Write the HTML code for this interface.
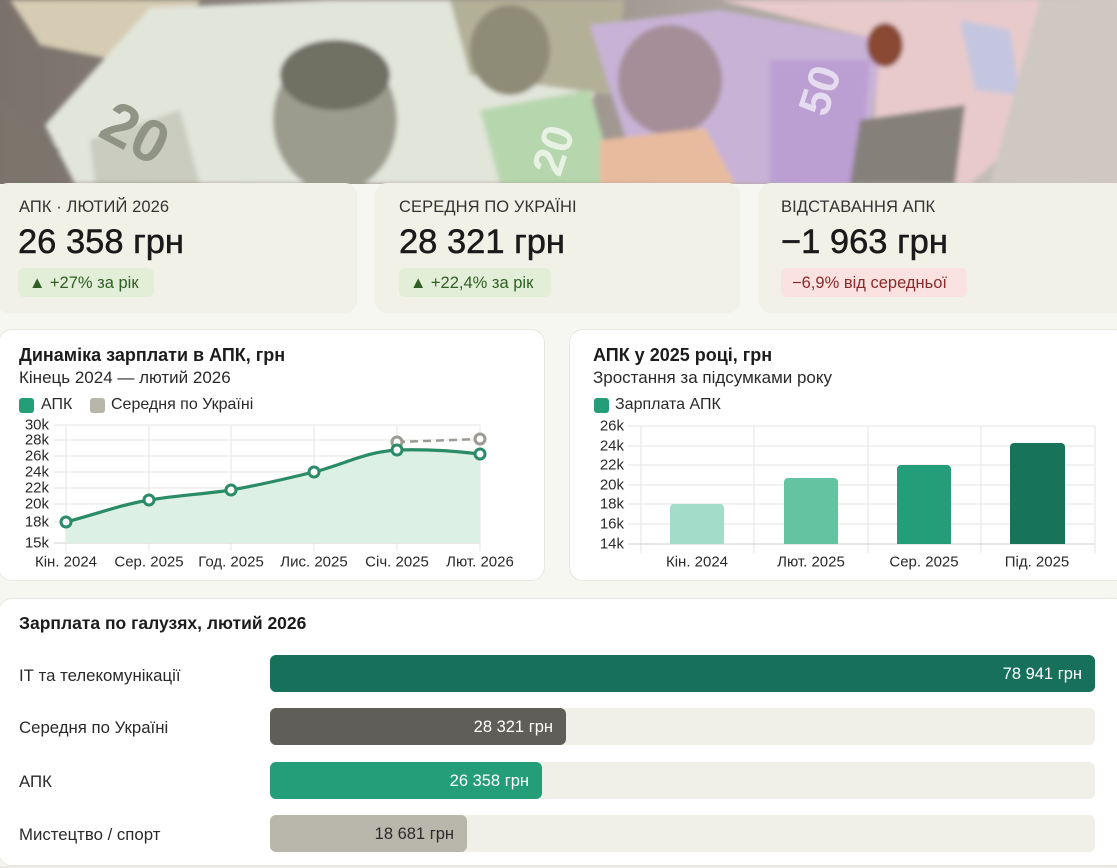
<!DOCTYPE html>
<html lang="uk">
<head>
<meta charset="utf-8">
<style>
  html,body{margin:0;padding:0;}
  body{width:1117px;height:868px;overflow:hidden;background:#f7f7f2;position:relative;
       font-family:"Liberation Sans","DejaVu Sans",sans-serif;color:#1c1c1c;}
  .abs{position:absolute;}
  .kpi{position:absolute;top:183px;height:130px;background:#f2f1e7;border-radius:12px;}
  .klabel{position:absolute;top:198px;font-size:16.5px;color:#333;white-space:nowrap;letter-spacing:0.1px;}
  .kval{position:absolute;top:223px;font-size:34.5px;color:#1a1a1a;white-space:nowrap;-webkit-text-stroke:0.5px #1a1a1a;}
  .badge{position:absolute;top:268px;height:29px;line-height:30px;border-radius:6px;font-size:16.5px;white-space:nowrap;padding:0 11px;box-sizing:border-box;}
  .card{position:absolute;background:#fff;border:1px solid #e8e7e1;border-radius:14px;box-sizing:border-box;}
  .ctitle{position:absolute;font-size:18px;font-weight:bold;white-space:nowrap;color:#1c1c1c;}
  .csub{position:absolute;font-size:17px;white-space:nowrap;color:#2a2a2a;}
  .leg{position:absolute;font-size:16px;white-space:nowrap;color:#2a2a2a;}
  .sq{position:absolute;width:15px;height:15px;border-radius:3px;}
  .rlabel{position:absolute;left:19px;font-size:16.8px;color:#2a2a2a;white-space:nowrap;}
  .track{position:absolute;left:270px;width:825px;height:37px;background:#f1f0e8;border-radius:6px;}
  .bar{position:absolute;left:270px;height:37px;border-radius:6px;box-sizing:border-box;text-align:right;padding-right:13px;line-height:38px;font-size:16.5px;color:#fff;white-space:nowrap;}
</style>
</head>
<body>

<!-- Photo header approximation -->
<svg class="abs" style="left:0;top:0" width="1117" height="184" viewBox="0 0 1117 184">
  <defs>
    <linearGradient id="wood" x1="0" x2="1" y1="0" y2="0">
      <stop offset="0" stop-color="#7a726a"/>
      <stop offset="0.5" stop-color="#9c948c"/>
      <stop offset="1" stop-color="#cfc9c2"/>
    </linearGradient>
    <filter id="bl" x="-5%" y="-5%" width="110%" height="110%"><feGaussianBlur stdDeviation="2.5"/></filter>
  </defs>
  <rect width="1117" height="184" fill="url(#wood)"/>
  <g filter="url(#bl)">
    <polygon points="10,0 200,0 165,70 40,45" fill="#d6ccb4"/>
    <polygon points="150,8 330,0 470,0 600,80 560,184 75,184 45,125" fill="#e2e5da"/>
    <polygon points="90,140 180,110 200,184 95,184" fill="#c9ccbe"/>
    <ellipse cx="335" cy="120" rx="62" ry="72" fill="#9c9c8e"/>
    <ellipse cx="335" cy="75" rx="55" ry="35" fill="#6f6f64"/>
    <polygon points="450,0 625,0 610,95 470,75" fill="#b3b098"/>
    <ellipse cx="510" cy="50" rx="40" ry="45" fill="#8e8b77"/>
    <polygon points="590,25 720,10 885,40 860,184 640,184" fill="#c8b2d6"/>
    <ellipse cx="670" cy="80" rx="52" ry="55" fill="#a68e98"/>
    <polygon points="770,60 870,60 860,184 770,184" fill="#bb9fd3"/>
    <polygon points="480,110 590,90 615,184 500,184" fill="#b6d7ae"/>
    <polygon points="600,140 705,128 735,184 600,184" fill="#e8bb9e"/>
    <polygon points="720,0 1095,0 1085,80 970,184 870,184 880,40" fill="#e8cacb"/>
    <polygon points="960,20 1010,30 1020,95 975,90" fill="#c4c6df"/>
    <polygon points="860,120 965,105 955,184 850,184" fill="#85817a"/>
    <ellipse cx="885" cy="45" rx="18" ry="22" fill="#8a4a30"/>
    <polygon points="1040,0 1117,0 1117,184 990,184" fill="#cec8c1"/>
    <polygon points="0,100 60,150 40,184 0,184" fill="#7c746c"/>
  </g>
  <text x="105" y="150" font-size="60" font-weight="bold" fill="#8f9484" transform="rotate(28 130 125)" font-family="Liberation Sans, sans-serif">20</text>
  <text x="525" y="160" font-size="44" font-weight="bold" fill="#e8f2e4" transform="rotate(-72 555 145)" font-family="Liberation Sans, sans-serif">20</text>
  <text x="795" y="105" font-size="44" font-weight="bold" fill="#e6dcef" transform="rotate(-72 820 90)" font-family="Liberation Sans, sans-serif">50</text>
</svg>

<!-- KPI cards -->
<div class="kpi" style="left:-4px;width:361px;"></div>
<div class="kpi" style="left:375px;width:365px;"></div>
<div class="kpi" style="left:759px;width:370px;"></div>

<div class="klabel" style="left:19px;">АПК · ЛЮТИЙ 2026</div>
<div class="kval" style="left:18px;">26 358 грн</div>
<div class="badge" style="left:18px;width:136px;background:#e2eed8;color:#2f5f22;">▲ +27% за рік</div>

<div class="klabel" style="left:399px;">СЕРЕДНЯ ПО УКРАЇНІ</div>
<div class="kval" style="left:399px;">28 321 грн</div>
<div class="badge" style="left:399px;width:152px;background:#e2eed8;color:#2f5f22;">▲ +22,4% за рік</div>

<div class="klabel" style="left:781px;">ВІДСТАВАННЯ АПК</div>
<div class="kval" style="left:781px;">−1 963 грн</div>
<div class="badge" style="left:781px;width:186px;background:#f9e2df;color:#8a2a2a;">−6,9% від середньої</div>

<!-- Chart cards -->
<div class="card" style="left:-2px;top:329px;width:547px;height:252px;"></div>
<div class="card" style="left:569px;top:329px;width:560px;height:252px;"></div>

<div class="ctitle" style="left:19px;top:345px;">Динаміка зарплати в АПК, грн</div>
<div class="csub" style="left:19px;top:368px;">Кінець 2024 — лютий 2026</div>
<div class="sq" style="left:19px;top:398px;background:#249e78;"></div>
<div class="leg" style="left:41px;top:396px;">АПК</div>
<div class="sq" style="left:90px;top:398px;background:#b9b5ab;"></div>
<div class="leg" style="left:111px;top:396px;">Середня по Україні</div>

<div class="ctitle" style="left:593px;top:345px;">АПК у 2025 році, грн</div>
<div class="csub" style="left:593px;top:368px;">Зростання за підсумками року</div>
<div class="sq" style="left:594px;top:398px;background:#249e78;"></div>
<div class="leg" style="left:615px;top:396px;">Зарплата АПК</div>

<svg class="abs" style="left:0;top:0" width="1117" height="600" viewBox="0 0 1117 600"
     font-family="Liberation Sans, Arial, sans-serif" font-size="15" fill="#2a2a2a">
  <!-- line chart grid -->
  <g stroke="#e6e6e1" stroke-width="1">
    <line x1="54" x2="480" y1="425" y2="425"/>
    <line x1="54" x2="480" y1="440" y2="440"/>
    <line x1="54" x2="480" y1="456" y2="456"/>
    <line x1="54" x2="480" y1="472" y2="472"/>
    <line x1="54" x2="480" y1="488" y2="488"/>
    <line x1="54" x2="480" y1="504" y2="504"/>
    <line x1="54" x2="480" y1="522" y2="522"/>
    <line x1="66" x2="66" y1="425" y2="551"/>
    <line x1="149" x2="149" y1="425" y2="551"/>
    <line x1="231" x2="231" y1="425" y2="551"/>
    <line x1="314" x2="314" y1="425" y2="551"/>
    <line x1="397" x2="397" y1="425" y2="551"/>
    <line x1="480" x2="480" y1="425" y2="551"/>
  </g>
  <line x1="54" x2="480" y1="543" y2="543" stroke="#d2d2cc" stroke-width="1"/>
  <path d="M66,522 C100,513 120,505 149,500 C180,495 205,494 231,490 C260,485 285,479 314,472 C345,464 365,452 397,450 C430,449 455,451 480,454 L480,543 L66,543 Z" fill="#dcf0e6"/>
  <path d="M66,522 C100,513 120,505 149,500 C180,495 205,494 231,490 C260,485 285,479 314,472 C345,464 365,452 397,450 C430,449 455,451 480,454" fill="none" stroke="#2a8b67" stroke-width="3.2" stroke-linejoin="round"/>
  <line x1="397" y1="442" x2="480" y2="439" stroke="#9b9993" stroke-width="2.5" stroke-dasharray="8,5"/>
  <g fill="#fff" stroke="#9d9a92" stroke-width="3">
    <circle cx="397" cy="442" r="5"/>
    <circle cx="480" cy="439" r="5"/>
  </g>
  <g fill="#fff" stroke="#2a8b67" stroke-width="3">
    <circle cx="66" cy="522" r="5"/>
    <circle cx="149" cy="500" r="5"/>
    <circle cx="231" cy="490" r="5"/>
    <circle cx="314" cy="472" r="5"/>
    <circle cx="397" cy="450" r="5"/>
    <circle cx="480" cy="454" r="5"/>
  </g>
  <g text-anchor="end" dominant-baseline="central">
    <text x="49" y="425">30k</text>
    <text x="49" y="440">28k</text>
    <text x="49" y="456">26k</text>
    <text x="49" y="472">24k</text>
    <text x="49" y="488">22k</text>
    <text x="49" y="504">20k</text>
    <text x="49" y="522">18k</text>
    <text x="49" y="543">15k</text>
  </g>
  <g text-anchor="middle" dominant-baseline="central">
    <text x="66" y="562">Кін. 2024</text>
    <text x="149" y="562">Сер. 2025</text>
    <text x="231" y="562">Год. 2025</text>
    <text x="314" y="562">Лис. 2025</text>
    <text x="397" y="562">Січ. 2025</text>
    <text x="480" y="562">Лют. 2026</text>
  </g>

  <!-- bar chart grid -->
  <g stroke="#e6e6e1" stroke-width="1">
    <line x1="628" x2="1095" y1="426" y2="426"/>
    <line x1="628" x2="1095" y1="446" y2="446"/>
    <line x1="628" x2="1095" y1="465" y2="465"/>
    <line x1="628" x2="1095" y1="485" y2="485"/>
    <line x1="628" x2="1095" y1="504" y2="504"/>
    <line x1="628" x2="1095" y1="524" y2="524"/>
    <line x1="641" x2="641" y1="426" y2="553"/>
    <line x1="754" x2="754" y1="426" y2="553"/>
    <line x1="868" x2="868" y1="426" y2="553"/>
    <line x1="981" x2="981" y1="426" y2="553"/>
    <line x1="1095" x2="1095" y1="426" y2="553"/>
  </g>
  <line x1="628" x2="1095" y1="544" y2="544" stroke="#d2d2cc" stroke-width="1"/>
  <path d="M670,544 V508 a4,4 0 0 1 4,-4 H720 a4,4 0 0 1 4,4 V544 Z" fill="#a3dcc8"/>
  <path d="M784,544 V482 a4,4 0 0 1 4,-4 H834 a4,4 0 0 1 4,4 V544 Z" fill="#64c4a2"/>
  <path d="M897,544 V469 a4,4 0 0 1 4,-4 H947 a4,4 0 0 1 4,4 V544 Z" fill="#249e78"/>
  <path d="M1010,544 V447 a4,4 0 0 1 4,-4 H1061 a4,4 0 0 1 4,4 V544 Z" fill="#17735a"/>
  <g text-anchor="end" dominant-baseline="central">
    <text x="624" y="426">26k</text>
    <text x="624" y="446">24k</text>
    <text x="624" y="465">22k</text>
    <text x="624" y="485">20k</text>
    <text x="624" y="504">18k</text>
    <text x="624" y="524">16k</text>
    <text x="624" y="544">14k</text>
  </g>
  <g text-anchor="middle" dominant-baseline="central">
    <text x="697" y="562">Кін. 2024</text>
    <text x="811" y="562">Лют. 2025</text>
    <text x="924" y="562">Сер. 2025</text>
    <text x="1037" y="562">Під. 2025</text>
  </g>
</svg>

<!-- Bottom industries card -->
<div class="card" style="left:-2px;top:598px;width:1130px;height:268px;border-radius:14px;"></div>
<div class="abs" style="left:0;top:866px;width:1117px;height:2px;background:#ebeae4;"></div>
<div class="ctitle" style="left:19px;top:613px;font-size:17.5px;">Зарплата по галузях, лютий 2026</div>

<div class="rlabel" style="top:666px;">ІТ та телекомунікації</div>
<div class="track" style="top:655px;"></div>
<div class="bar" style="top:655px;width:825px;background:#17705a;">78 941 грн</div>

<div class="rlabel" style="top:718px;">Середня по Україні</div>
<div class="track" style="top:708px;"></div>
<div class="bar" style="top:708px;width:296px;background:#5f5e58;">28 321 грн</div>

<div class="rlabel" style="top:772px;">АПК</div>
<div class="track" style="top:762px;"></div>
<div class="bar" style="top:762px;width:272px;background:#249e78;">26 358 грн</div>

<div class="rlabel" style="top:825px;">Мистецтво / спорт</div>
<div class="track" style="top:815px;"></div>
<div class="bar" style="top:815px;width:197px;background:#b9b6ac;color:#2a2a2a;">18 681 грн</div>

</body>
</html>
